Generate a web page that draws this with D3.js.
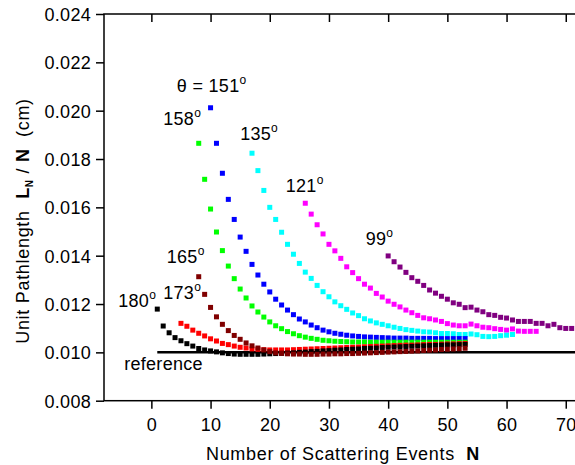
<!DOCTYPE html>
<html>
<head>
<meta charset="utf-8">
<script src="https://cdn.jsdelivr.net/npm/d3@7"></script>
<style>
  body { margin: 0; background: #fff; }
  svg text { font-family: "Liberation Sans", Arial, sans-serif; fill: #000; }
</style>
</head>
<body>
<div id="chart"></div>
<script>
const w = 575;
const h = 465;

// series: name, first N, colour (one per N step)
const names = ['99', '121', '135', '151', '158', '173', '180', '165'];
const colors = ['#800080', '#ff00ff', '#00ffff', '#0000ff', '#00ff00', '#ff0000', '#000000', '#800000'];
const startN = [40, 26, 17, 10, 8, 5, 1, 8];

const v99 = [0.01399, 0.01375, 0.01353, 0.01331, 0.01309, 0.01294, 0.01277, 0.01258, 0.01245, 0.01232,
  0.01220, 0.01205, 0.01199, 0.01185, 0.01187, 0.01175, 0.01168, 0.01156, 0.01153, 0.01145,
  0.01142, 0.01134, 0.01128, 0.01128, 0.01128, 0.01120, 0.01120, 0.01110, 0.01116, 0.01102,
  0.01099, 0.01099, 0.01097];
const v121 = [0.01617, 0.01572, 0.01528, 0.01490, 0.01447, 0.01420, 0.01389, 0.01354, 0.01330, 0.01305,
  0.01282, 0.01266, 0.01244, 0.01229, 0.01212, 0.01199, 0.01188, 0.01175, 0.01164, 0.01153,
  0.01143, 0.01139, 0.01134, 0.01128, 0.01119, 0.01113, 0.01110, 0.01110, 0.01117, 0.01110,
  0.01104, 0.01102, 0.01098, 0.01095, 0.01092, 0.01097, 0.01088, 0.01087, 0.01087, 0.01087];
const v135 = [0.01824, 0.01752, 0.01670, 0.01600, 0.01550, 0.01497, 0.01447, 0.01406, 0.01368, 0.01332,
  0.01306, 0.01277, 0.01251, 0.01230, 0.01209, 0.01193, 0.01178, 0.01163, 0.01152, 0.01139,
  0.01130, 0.01122, 0.01116, 0.01110, 0.01104, 0.01099, 0.01094, 0.01091, 0.01088, 0.01085,
  0.01084, 0.01081, 0.01078, 0.01078, 0.01077, 0.01074, 0.01074, 0.01076, 0.01073, 0.01066,
  0.01065, 0.01066, 0.01069, 0.01071, 0.01074];
const v151 = [0.02012, 0.01865, 0.01741, 0.01633, 0.01550, 0.01477, 0.01418, 0.01364, 0.01320, 0.01282,
  0.01250, 0.01220, 0.01196, 0.01175, 0.01156, 0.01138, 0.01126, 0.01113, 0.01102, 0.01092,
  0.01085, 0.01079, 0.01075, 0.01071, 0.01068, 0.01066, 0.01064, 0.01063, 0.01062, 0.01061,
  0.01060, 0.01059, 0.01059, 0.01059, 0.01058, 0.01058, 0.01058, 0.01058, 0.01057, 0.01057,
  0.01057, 0.01057, 0.01057, 0.01057];
const v158 = [0.01865, 0.01716, 0.01593, 0.01498, 0.01421, 0.01357, 0.01305, 0.01262, 0.01225, 0.01192,
  0.01167, 0.01146, 0.01126, 0.01110, 0.01098, 0.01086, 0.01077, 0.01069, 0.01063, 0.01058,
  0.01054, 0.01050, 0.01048, 0.01046, 0.01045, 0.01044, 0.01043, 0.01043, 0.01043, 0.01042,
  0.01042, 0.01042, 0.01042, 0.01042, 0.01042, 0.01042, 0.01042, 0.01042, 0.01042, 0.01042,
  0.01042, 0.01042, 0.01042, 0.01042, 0.01042, 0.01042];
const v173 = [0.01120, 0.01108, 0.01092, 0.01079, 0.01068, 0.01056, 0.01047, 0.01037, 0.01032, 0.01026,
  0.01021, 0.01018, 0.01014, 0.01012, 0.01011, 0.01010, 0.01010, 0.01010, 0.01010, 0.01011,
  0.01012, 0.01013, 0.01014, 0.01015, 0.01016, 0.01017, 0.01018, 0.01019, 0.01020, 0.01021,
  0.01022, 0.01023, 0.01024, 0.01025, 0.01026, 0.01027, 0.01028, 0.01029, 0.01030, 0.01030,
  0.01031, 0.01032, 0.01033, 0.01033, 0.01034, 0.01035, 0.01035, 0.01036, 0.01037];
const v180 = [0.01179, 0.01109, 0.01081, 0.01061, 0.01048, 0.01036, 0.01026, 0.01016, 0.01010, 0.01006,
  0.01002, 0.00998, 0.00995, 0.00993, 0.00992, 0.00992, 0.00992, 0.00992, 0.00993, 0.00994,
  0.00995, 0.00996, 0.00997, 0.00998, 0.01000, 0.01001, 0.01003, 0.01004, 0.01006, 0.01007,
  0.01009, 0.01010, 0.01012, 0.01013, 0.01014, 0.01016, 0.01017, 0.01018, 0.01020, 0.01021,
  0.01022, 0.01023, 0.01024, 0.01025, 0.01026, 0.01027, 0.01028, 0.01029, 0.01030, 0.01031,
  0.01031, 0.01032, 0.01033];
const v165 = [0.01313, 0.01240, 0.01186, 0.01147, 0.01116, 0.01090, 0.01070, 0.01054, 0.01039, 0.01027,
  0.01018, 0.01010, 0.01003, 0.00998, 0.00996, 0.00994, 0.00993, 0.00993, 0.00992, 0.00992,
  0.00992, 0.00993, 0.00993, 0.00994, 0.00994, 0.00995, 0.00995, 0.00996, 0.00997, 0.00998,
  0.00999, 0.01000, 0.01001, 0.01002, 0.01003, 0.01004, 0.01005, 0.01006, 0.01008, 0.01009,
  0.01010, 0.01012, 0.01013, 0.01014, 0.01015, 0.01017];
const values = [v99, v121, v135, v151, v158, v173, v180, v165];

// reference line
const refValue = 0.010;
const refRange = [1, 80];

// tick labels
const xTicks = [0, 10, 20, 30, 40, 50, 60, 70];
const yTicks = [0.008, 0.010, 0.012, 0.014, 0.016, 0.018, 0.020, 0.022, 0.024];

// annotation labels: text, N, value (bottom-left anchor)
const labelText = ['\u03b8 = 151', '158', '135', '121', '99', '165', '173', '180'];
const labelN = [4.3, 2.0, 15.0, 22.7, 36.2, 2.6, 2.0, -5.6];
const labelV = [0.02077, 0.01941, 0.01879, 0.01665, 0.01444, 0.01369, 0.01221, 0.01189];

const x = d3.scaleLinear().domain([-8, 72]).range([104, 577.6]);
const y = d3.scaleLinear().domain([0.008, 0.024]).range([400.7, 14]);

const svg = d3.select('#chart').append('svg')
  .attr('width', w)
  .attr('height', h);

const fontSize = 18;
const ls = '0.3px';
const titleLs = '0.7px';

// frame
svg.append('rect')
  .attr('x', x(-8)).attr('y', y(0.024))
  .attr('width', x(72) - x(-8)).attr('height', y(0.008) - y(0.024))
  .attr('fill', 'none').attr('stroke', '#000').attr('stroke-width', 1.5);

// bottom axis
const xAxis = svg.append('g')
  .attr('transform', `translate(0,${y(0.008)})`)
  .call(d3.axisBottom(x).tickValues(xTicks).tickSize(8).tickPadding(5).tickFormat(d3.format('d')));
// top ticks, inward
const xTop = svg.append('g')
  .attr('transform', `translate(0,${y(0.024)})`)
  .call(d3.axisBottom(x).tickValues(xTicks).tickSize(8).tickFormat(''));
// left axis
const yAxis = svg.append('g')
  .attr('transform', `translate(${x(-8)},0)`)
  .call(d3.axisLeft(y).tickValues(yTicks).tickSize(8).tickPadding(5).tickFormat(d3.format('.3f')));

[xAxis, xTop, yAxis].forEach(g => {
  g.select('.domain').remove();
  g.selectAll('line').attr('stroke', '#000').attr('stroke-width', 1.5);
  g.selectAll('text')
    .style('font-family', '"Liberation Sans", Arial, sans-serif')
    .style('font-size', fontSize + 'px')
    .style('letter-spacing', ls);
});
yAxis.selectAll('text').attr('dy', '0.36em');
xAxis.selectAll('text').attr('dy', '0.95em');

// reference line
svg.append('line')
  .attr('x1', x(refRange[0])).attr('x2', x(refRange[1]))
  .attr('y1', y(refValue)).attr('y2', y(refValue))
  .attr('stroke', '#000').attr('stroke-width', 2.5);

// markers
const sq = 5;
names.forEach((name, si) => {
  const pts = values[si].map((v, i) => ({ n: startN[si] + i, v: v }));
  svg.append('g').attr('class', 'series-' + name)
    .selectAll('rect')
    .data(pts)
    .enter()
    .append('rect')
    .attr('x', d => x(d.n) - sq / 2)
    .attr('y', d => y(d.v) - sq / 2)
    .attr('width', sq)
    .attr('height', sq)
    .attr('fill', colors[si]);
});

// annotations
labelText.forEach((t, i) => {
  const txt = svg.append('text')
    .attr('x', x(labelN[i]))
    .attr('y', y(labelV[i]))
    .style('font-size', fontSize + 'px')
    .style('letter-spacing', ls);
  txt.append('tspan').text(t);
  txt.append('tspan').text('o').style('font-size', '12px').attr('dy', -8);
});

svg.append('text')
  .attr('x', x(-4.6))
  .attr('y', y(0.00927))
  .style('font-size', fontSize + 'px')
  .style('letter-spacing', ls)
  .text('reference');

// axis titles
const xt = svg.append('text')
  .attr('x', 343)
  .attr('y', 460)
  .attr('text-anchor', 'middle')
  .style('font-size', fontSize + 'px')
  .style('letter-spacing', titleLs);
xt.append('tspan').text('Number of Scattering Events\u00a0\u00a0');
xt.append('tspan').text('N').style('font-weight', 'bold');

const yt = svg.append('text')
  .attr('transform', 'translate(29,221) rotate(-90)')
  .attr('text-anchor', 'middle')
  .style('font-size', fontSize + 'px')
  .style('letter-spacing', titleLs);
yt.append('tspan').text('Unit Pathlength\u00a0\u00a0');
yt.append('tspan').text('L').style('font-weight', 'bold');
yt.append('tspan').text('N').style('font-weight', 'bold').style('font-size', '10px').attr('dy', 4);
yt.append('tspan').text(' / ').attr('dy', -4);
yt.append('tspan').text('N').style('font-weight', 'bold');
yt.append('tspan').text('\u00a0\u00a0(cm)');
</script>
</body>
</html>
